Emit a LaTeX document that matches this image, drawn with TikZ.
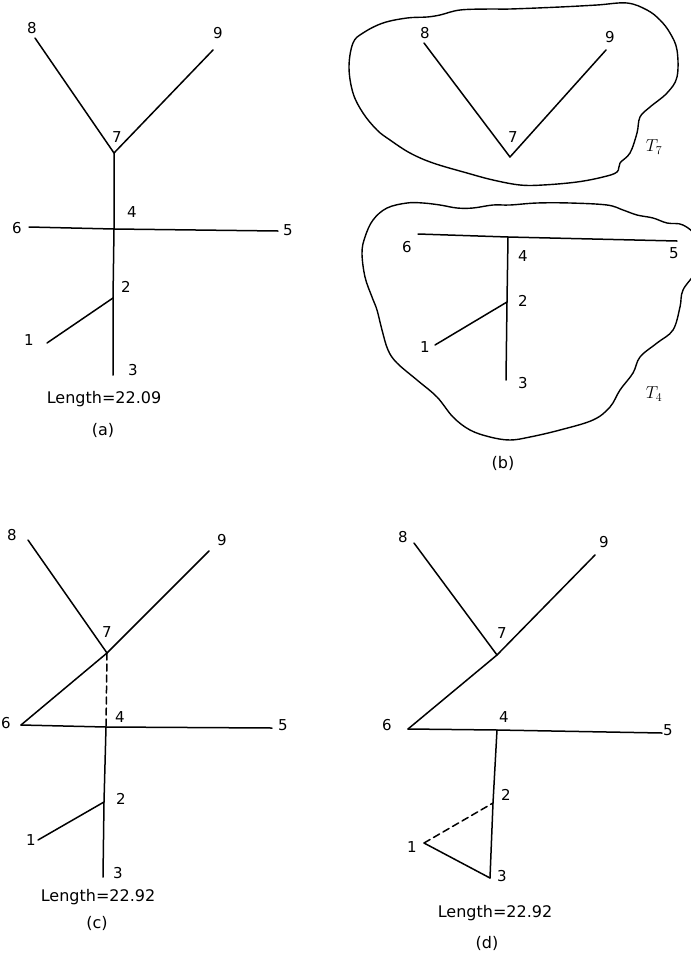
\documentclass[tikz,border=0pt]{standalone}
\usepackage{fontspec}
\setmainfont{DejaVu Sans}
\begin{document}
\begin{tikzpicture}[x=1pt,y=-1pt,
  edge/.style={line width=1.5pt,line cap=round,line join=round},
  dashedge/.style={edge,dash pattern=on 7pt off 4pt},
  blob/.style={line width=1.4pt},
  lbl/.style={inner sep=0pt,font=\fontsize{15}{15}\selectfont},
  captxt/.style={inner sep=0pt,font=\fontsize{16}{16}\selectfont},
  tlbl/.style={inner sep=0pt,font=\fontsize{18}{18}\selectfont}]
\useasboundingbox (0,0) rectangle (691,954);
\fill[white] (0,0) rectangle (691,954);

% ---------- (a) ----------
\coordinate (a8) at (35,38);  \coordinate (a9) at (213,50);
\coordinate (a7) at (114,153); \coordinate (a4) at (114,229);
\coordinate (a6) at (29,227); \coordinate (a5) at (278,231);
\coordinate (a2) at (113,298); \coordinate (a1) at (47,343);
\coordinate (a3) at (113,375);
\draw[edge] (a8) -- (a7) -- (a9);
\draw[edge] (a7) -- (a4) -- (a2) -- (a3);
\draw[edge] (a6) -- (a4) -- (a5);
\draw[edge] (a1) -- (a2);
\node[lbl] (la8) at (32,28) {8};
\node[lbl] (la9) at (218,33) {9};
\node[lbl] (la7) at (117,137) {7};
\node[lbl] (la4) at (132,212) {4};
\node[lbl] (la6) at (17,228) {6};
\node[lbl] (la5) at (288,230) {5};
\node[lbl] (la2) at (126,287) {2};
\node[lbl] (la1) at (29,340) {1};
\node[lbl] (la3) at (133,370) {3};
\node[captxt] (lena) at (104,399) {Length=22.09};
\node[captxt] (capa) at (103,430) {(a)};

% ---------- (b) ----------
\draw[blob] plot[smooth cycle,tension=0.6] coordinates {
  (363,33) (383,23) (407,18) (427,17) (440,15) (460,10) (490,9) (510,9)
  (560,7) (597,5) (627,3) (647,10) (660,20) (670,33) (677,50) (677,77)
  (667,93) (650,107) (640,117) (637,133) (630,153) (620,163) (617,172)
  (603,177) (577,182) (543,185) (520,185) (493,180) (467,173) (433,163)
  (410,153) (390,140) (377,130) (363,113) (353,93) (349,67) (353,43)};
\draw[blob] plot[smooth cycle,tension=0.6] coordinates {
  (387,208) (407,203) (423,203) (440,205) (457,208) (473,208) (493,205)
  (510,205) (537,203) (570,203) (607,205) (623,210) (637,215) (653,218)
  (667,223) (683,225) (696,238) (697,268) (683,290) (680,307) (673,330)
  (657,343) (640,357) (633,373) (620,390) (610,407) (593,420) (560,430)
  (530,437) (510,440) (490,437) (470,430) (453,417) (437,397) (417,380)
  (397,363) (388,350) (382,330) (377,310) (372,297) (365,277) (362,253)
  (365,237) (373,220)};
\coordinate (b8) at (424,43); \coordinate (b9) at (606,50);
\coordinate (b7) at (510,157);
\draw[edge] (b8) -- (b7) -- (b9);
\node[lbl] (lb8) at (425,33) {8};
\node[lbl] (lb9) at (610,37) {9};
\node[lbl] (lb7) at (513,137) {7};
\node[tlbl] (lt7) at (654,147) {$T_7$};
\coordinate (b6) at (418,234); \coordinate (b4) at (508,237);
\coordinate (b5) at (677,241); \coordinate (b2) at (507,302);
\coordinate (b1) at (435,345); \coordinate (b3) at (506,380);
\draw[edge] (b6) -- (b4) -- (b5);
\draw[edge] (b4) -- (b2) -- (b3);
\draw[edge] (b1) -- (b2);
\node[lbl] (lb6) at (407,247) {6};
\node[lbl] (lb4) at (523,256) {4};
\node[lbl] (lb5) at (674,253) {5};
\node[lbl] (lb2) at (523,301) {2};
\node[lbl] (lb1) at (425,347) {1};
\node[lbl] (lb3) at (523,383) {3};
\node[tlbl] (lt4) at (654,394) {$T_4$};
\node[captxt] (capb) at (503,463) {(b)};

% ---------- (c) ----------
\coordinate (c8) at (28,540);  \coordinate (c9) at (209,551);
\coordinate (c7) at (107,653); \coordinate (c6) at (21,725);
\coordinate (c4) at (106,727); \coordinate (c5) at (272,728);
\coordinate (c2) at (104,802); \coordinate (c1) at (38,840);
\coordinate (c3) at (103,877);
\draw[edge] (c8) -- (c7) -- (c9);
\draw[edge] (c7) -- (c6);
\draw[edge] (c6) -- (c4) -- (c5);
\draw[edge] (c4) -- (c2) -- (c3);
\draw[edge] (c1) -- (c2);
\draw[dashedge] (c7) -- (c4);
\node[lbl] (lc8) at (12,535) {8};
\node[lbl] (lc9) at (222,540) {9};
\node[lbl] (lc7) at (107,632) {7};
\node[lbl] (lc6) at (6,723) {6};
\node[lbl] (lc4) at (120,717) {4};
\node[lbl] (lc5) at (283,725) {5};
\node[lbl] (lc2) at (121,799) {2};
\node[lbl] (lc1) at (31,840) {1};
\node[lbl] (lc3) at (118,873) {3};
\node[captxt] (lenc) at (98,897) {Length=22.92};
\node[captxt] (capc) at (97,923) {(c)};

% ---------- (d) ----------
\coordinate (d8) at (414,543); \coordinate (d9) at (595,555);
\coordinate (d7) at (497,655); \coordinate (d6) at (408,729);
\coordinate (d4) at (497,730); \coordinate (d5) at (662,733);
\coordinate (d2) at (493,803); \coordinate (d1) at (424,843);
\coordinate (d3) at (490,878);
\draw[edge] (d8) -- (d7) -- (d9);
\draw[edge] (d7) -- (d6);
\draw[edge] (d6) -- (d4) -- (d5);
\draw[edge] (d4) -- (d2) -- (d3);
\draw[edge] (d1) -- (d3);
\draw[dashedge] (d1) -- (d2);
\node[lbl] (ld8) at (403,537) {8};
\node[lbl] (ld9) at (604,542) {9};
\node[lbl] (ld7) at (502,633) {7};
\node[lbl] (ld6) at (387,725) {6};
\node[lbl] (ld4) at (504,717) {4};
\node[lbl] (ld5) at (668,730) {5};
\node[lbl] (ld2) at (506,795) {2};
\node[lbl] (ld1) at (412,847) {1};
\node[lbl] (ld3) at (502,876) {3};
\node[captxt] (lend) at (495,913) {Length=22.92};
\node[captxt] (capd) at (487,943) {(d)};
\end{tikzpicture}
\end{document}
